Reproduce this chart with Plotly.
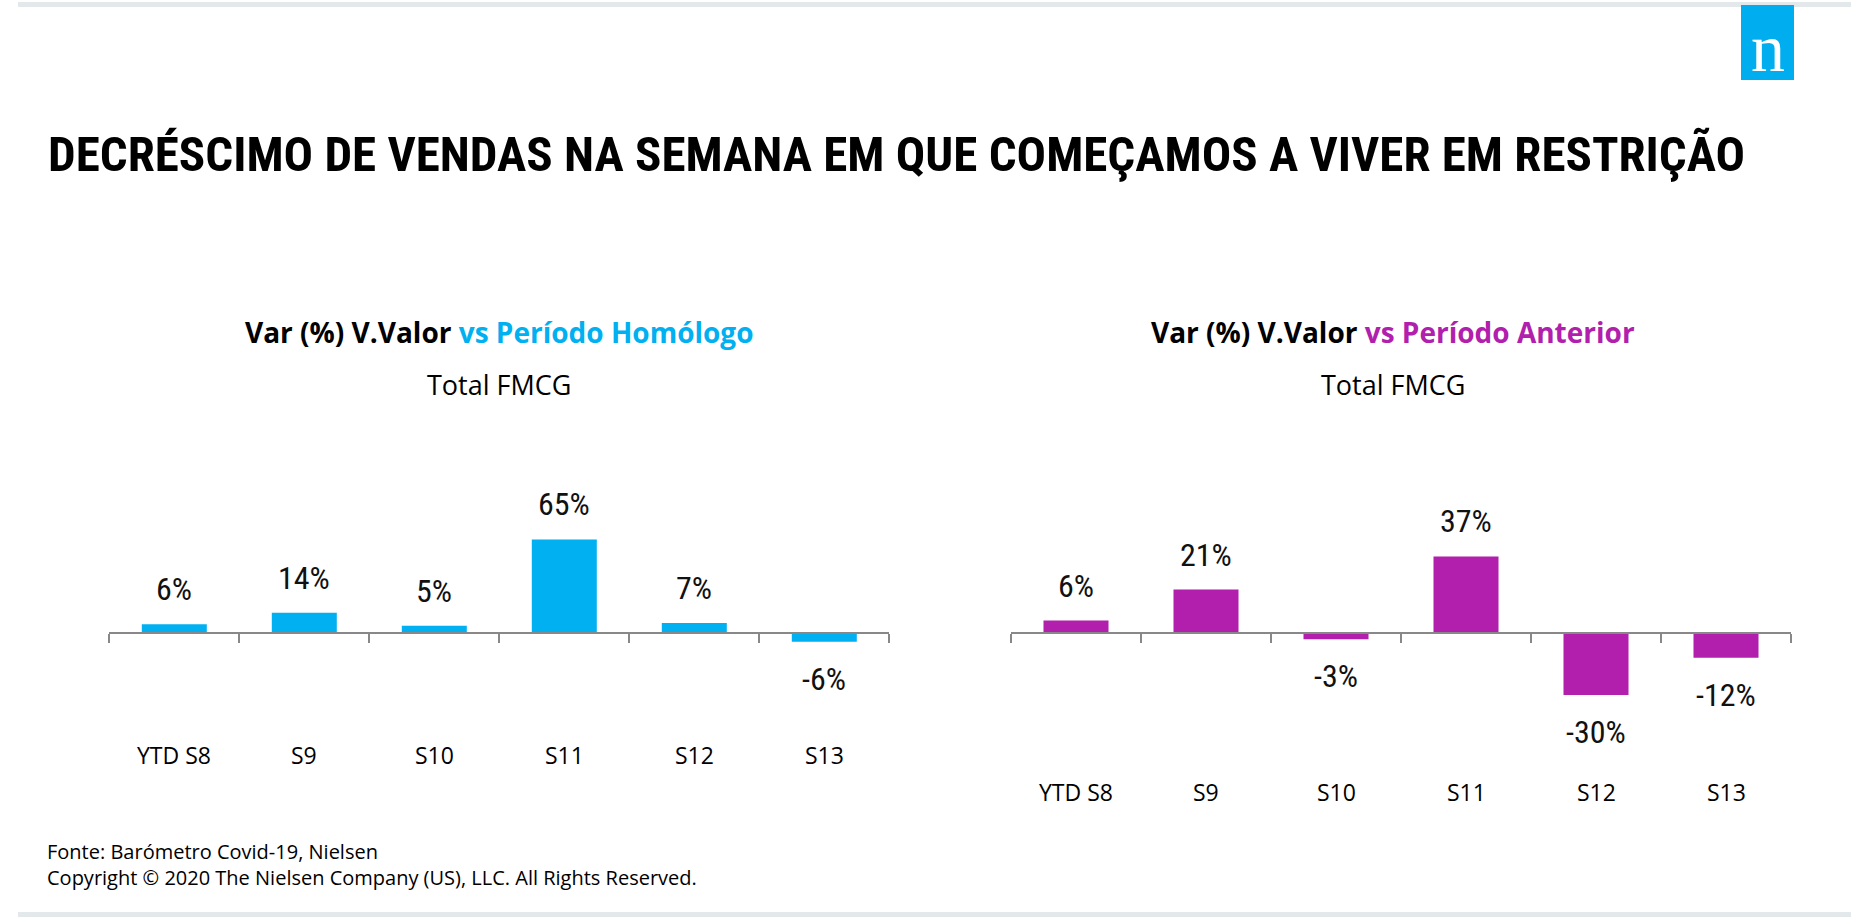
import plotly.graph_objects as go

# ---- data ----
categories = ["YTD S8", "S9", "S10", "S11", "S12", "S13"]
var_homologo = [6, 14, 5, 65, 7, -6]
var_anterior = [6, 21, -3, 37, -30, -12]

title_text = "DECRÉSCIMO DE VENDAS NA SEMANA EM QUE COMEÇAMOS A VIVER EM RESTRIÇÃO"
sub_left = ("Var (%) V.Valor ", "vs Período Homólogo")
sub_right = ("Var (%) V.Valor ", "vs Período Anterior")
sub2 = "Total FMCG"
footer1 = "Fonte: Barómetro Covid-19, Nielsen"
footer2 = "Copyright © 2020 The Nielsen Company (US), LLC. All Rights Reserved."

CYAN = "#00B0F0"
MAG = "#B11FAC"
AXIS = "#888888"

W, H = 1851, 921


def px(p):
    return p / W


def py(p):
    return 1 - p / H


COND = "Roboto Condensed, Roboto, sans-serif"
SANS = "Open Sans, Noto Sans, sans-serif"

top_px, bot_px = 400, 810
ydom = [py(bot_px), py(top_px)]


def yrange(zero_px, scale):
    return [-(bot_px - zero_px) / scale, (zero_px - top_px) / scale]


def zero_pos(rng):
    return ydom[0] + (0 - rng[0]) / (rng[1] - rng[0]) * (ydom[1] - ydom[0])


yl = yrange(633, 1.44)
yr = yrange(633, 2.07)

fig = go.Figure()
fig.add_trace(go.Bar(x=categories, y=var_homologo, marker_color=CYAN,
                     marker_line_width=0, xaxis="x", yaxis="y", hoverinfo="skip"))
fig.add_trace(go.Bar(x=categories, y=var_anterior, marker_color=MAG,
                     marker_line_width=0, xaxis="x2", yaxis="y2", hoverinfo="skip"))

xcommon = dict(type="category", categoryorder="array", categoryarray=categories,
               range=[-0.5, 5.5], showline=True, linecolor=AXIS, linewidth=2,
               ticks="outside", tickson="boundaries", ticklen=9, tickwidth=2,
               tickcolor=AXIS, showticklabels=False, showgrid=False,
               zeroline=False, fixedrange=True)
ycommon = dict(showgrid=False, zeroline=False, showticklabels=False,
               showline=False, domain=ydom, fixedrange=True)

fig.update_layout(
    width=W, height=H,
    margin=dict(l=0, r=0, t=0, b=0),
    paper_bgcolor="white", plot_bgcolor="rgba(0,0,0,0)",
    showlegend=False, bargap=0.5,
    xaxis=dict(xcommon, domain=[px(109.3), px(889.3)], anchor="free",
               position=zero_pos(yl)),
    yaxis=dict(ycommon, range=yl, anchor="x"),
    xaxis2=dict(xcommon, domain=[px(1011), px(1791)], anchor="free",
                position=zero_pos(yr)),
    yaxis2=dict(ycommon, range=yr, anchor="x2"),
)

annotations = []
# main title
annotations.append(dict(text=title_text, x=px(46), y=py(155),
                        xref="paper", yref="paper", xanchor="left", yanchor="middle",
                        showarrow=False,
                        font=dict(family=COND, size=49, weight=700, color="#000000")))

shapes = [
    dict(type="rect", xref="paper", yref="paper", x0=px(18), x1=1, y0=py(7), y1=py(2),
         fillcolor="#E3E8EB", line_width=0, layer="below"),
    dict(type="rect", xref="paper", yref="paper", x0=px(18), x1=1, y0=py(917), y1=py(912),
         fillcolor="#E3E8EB", line_width=0, layer="below"),
    dict(type="rect", xref="paper", yref="paper", x0=px(1741), x1=px(1794), y0=py(80), y1=py(5),
         fillcolor="#00AEEF", line_width=0),
]
# logo letter
annotations.append(dict(text="n", x=px(1767.5), y=py(48), xref="paper", yref="paper",
                        xanchor="center", yanchor="middle", showarrow=False,
                        font=dict(family="Liberation Serif, DejaVu Serif, serif", size=68,
                                  color="white")))

# subtitles
for (a, b), color, cx in [(sub_left, CYAN, 499), (sub_right, MAG, 1393)]:
    annotations.append(dict(text=f"<b>{a}<span style='color:{color}'>{b}</span></b>",
                            x=px(cx), y=py(332), xref="paper", yref="paper",
                            xanchor="center", yanchor="middle", showarrow=False,
                            font=dict(family=SANS, size=28, color="#000000")))
    annotations.append(dict(text=sub2, x=px(cx), y=py(385), xref="paper", yref="paper",
                            xanchor="center", yanchor="middle", showarrow=False,
                            font=dict(family=SANS, size=27, color="#000000")))

# value labels and category labels
for xa, ya, vals, lab_y in [("x", "y", var_homologo, 755), ("x2", "y2", var_anterior, 792)]:
    for c, v in zip(categories, vals):
        annotations.append(dict(text=f"{v}%", x=c, y=v, xref=xa, yref=ya,
                                xanchor="center",
                                yanchor="bottom" if v >= 0 else "top",
                                yshift=14 if v >= 0 else -16, showarrow=False,
                                font=dict(family=COND, size=32, color="#111111")))
        annotations.append(dict(text=c, x=c, y=py(lab_y), xref=xa, yref="paper",
                                xanchor="center", yanchor="middle", showarrow=False,
                                font=dict(family=SANS, size=23, color="#000000")))

# footer
annotations.append(dict(text=footer1, x=px(45), y=py(851), xref="paper", yref="paper",
                        xanchor="left", yanchor="middle", showarrow=False,
                        font=dict(family=SANS, size=20, color="#000000")))
annotations.append(dict(text=footer2, x=px(45), y=py(877), xref="paper", yref="paper",
                        xanchor="left", yanchor="middle", showarrow=False,
                        font=dict(family=SANS, size=20, color="#000000")))

fig.update_layout(annotations=annotations, shapes=shapes)
fig.write_html("out.html", config={"displayModeBar": False},
               post_script="document.body.style.margin='0';")
